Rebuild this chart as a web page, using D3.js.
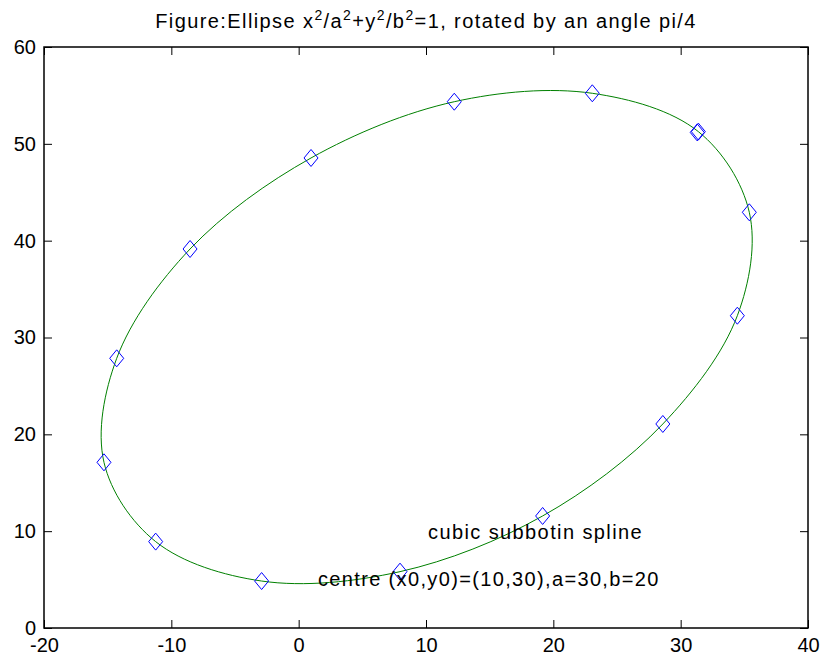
<!DOCTYPE html>
<html>
<head>
<meta charset="utf-8">
<script src="https://cdn.jsdelivr.net/npm/d3@7"></script>
<style>
  body { margin: 0; background: #fff; }
  text { font-family: "Liberation Sans", Arial, sans-serif; fill: #000; }
</style>
</head>
<body>
<svg id="chart" width="825" height="659"></svg>
<script>
// spline nodes (first node repeated at the end)
var nodeX = [31.39, 35.39, 34.45, 28.6, 19.16, 7.96, -2.91, -11.23, -15.29, -14.29, -8.53, 0.97, 12.22, 23.06, 31.30];
var nodeY = [51.26, 42.93, 32.25, 21.07, 11.57, 5.82, 4.85, 8.92, 17.11, 27.85, 39.14, 48.54, 54.35, 55.22, 51.18];
var xTicks = [-20, -10, 0, 10, 20, 30, 40];
var yTicks = [0, 10, 20, 30, 40, 50, 60];

var svg = d3.select("#chart");
var plotLeft = 44, plotRight = 808, plotTop = 47, plotBottom = 628;

var x = d3.scaleLinear().domain([-20, 40]).range([plotLeft, plotRight]);
var y = d3.scaleLinear().domain([0, 60]).range([plotBottom, plotTop]);

var nodes = nodeX.map(function(v, i){ return [v, nodeY[i]]; });

//Title with superscripts
var title = svg.append("text")
    .attr("x", (plotLeft + plotRight) / 2)
    .attr("y", 28)
    .attr("text-anchor", "middle")
    .style("font-size", "20px")
    .style("letter-spacing", "1.4px");
title.append("tspan").text("Figure:Ellipse x");
title.append("tspan").attr("dy", -8).style("font-size", "14px").text("2");
title.append("tspan").attr("dy", 8).text("/a");
title.append("tspan").attr("dy", -8).style("font-size", "14px").text("2");
title.append("tspan").attr("dy", 8).text("+y");
title.append("tspan").attr("dy", -8).style("font-size", "14px").text("2");
title.append("tspan").attr("dy", 8).text("/b");
title.append("tspan").attr("dy", -8).style("font-size", "14px").text("2");
title.append("tspan").attr("dy", 8).text("=1, rotated by an angle pi/4");

//Curve through the nodes (closed)
var line = d3.line()
    .x(function(d){ return x(d[0]); })
    .y(function(d){ return y(d[1]); })
    .curve(d3.curveCatmullRomClosed.alpha(0.5));

svg.append("path")
    .datum(nodes.slice(0, nodes.length - 1))
    .attr("d", line)
    .attr("fill", "none")
    .attr("stroke", "#008000")
    .attr("stroke-width", 1);

//Diamond markers
svg.selectAll(".node")
    .data(nodes)
    .enter()
    .append("path")
    .attr("class", "node")
    .attr("d", "M0,-8.5L7,0L0,8.5L-7,0Z")
    .attr("transform", function(d){ return "translate(" + x(d[0]) + "," + y(d[1]) + ")"; })
    .attr("fill", "none")
    .attr("stroke", "#0000ff")
    .attr("stroke-width", 1);

//Annotations
svg.append("text")
    .attr("x", 428).attr("y", 539)
    .style("font-size", "20px")
    .style("letter-spacing", "1.4px")
    .text("cubic subbotin spline");
svg.append("text")
    .attr("x", 318).attr("y", 586)
    .style("font-size", "20px")
    .style("letter-spacing", "1.35px")
    .text("centre (x0,y0)=(10,30),a=30,b=20");

//Axes, ticks pointing inward
function styleAxis(g, hideLabels){
    g.select(".domain").remove();
    g.selectAll(".tick line").attr("stroke", "#000").attr("stroke-width", 1);
    g.selectAll(".tick text")
        .style("font-size", "20px")
        .style("font-family", "'Liberation Sans', Arial, sans-serif");
    if( hideLabels ){
        g.selectAll(".tick text").remove();
    }
}

svg.append("g")
    .attr("transform", "translate(0," + plotBottom + ")")
    .call(d3.axisBottom(x).tickValues(xTicks).tickSize(-8).tickPadding(10).tickFormat(String))
    .call(styleAxis, false);
svg.append("g")
    .attr("transform", "translate(0," + plotTop + ")")
    .call(d3.axisTop(x).tickValues(xTicks).tickSize(-8))
    .call(styleAxis, true);
svg.append("g")
    .attr("transform", "translate(" + plotLeft + ",0)")
    .call(d3.axisLeft(y).tickValues(yTicks).tickSize(-8).tickPadding(8).tickFormat(String))
    .call(styleAxis, false);
svg.append("g")
    .attr("transform", "translate(" + plotRight + ",0)")
    .call(d3.axisRight(y).tickValues(yTicks).tickSize(-8))
    .call(styleAxis, true);

//Box
svg.append("rect")
    .attr("x", plotLeft).attr("y", plotTop)
    .attr("width", plotRight - plotLeft).attr("height", plotBottom - plotTop)
    .attr("fill", "none")
    .attr("stroke", "#000")
    .attr("stroke-width", 1.5);
</script>
</body>
</html>
